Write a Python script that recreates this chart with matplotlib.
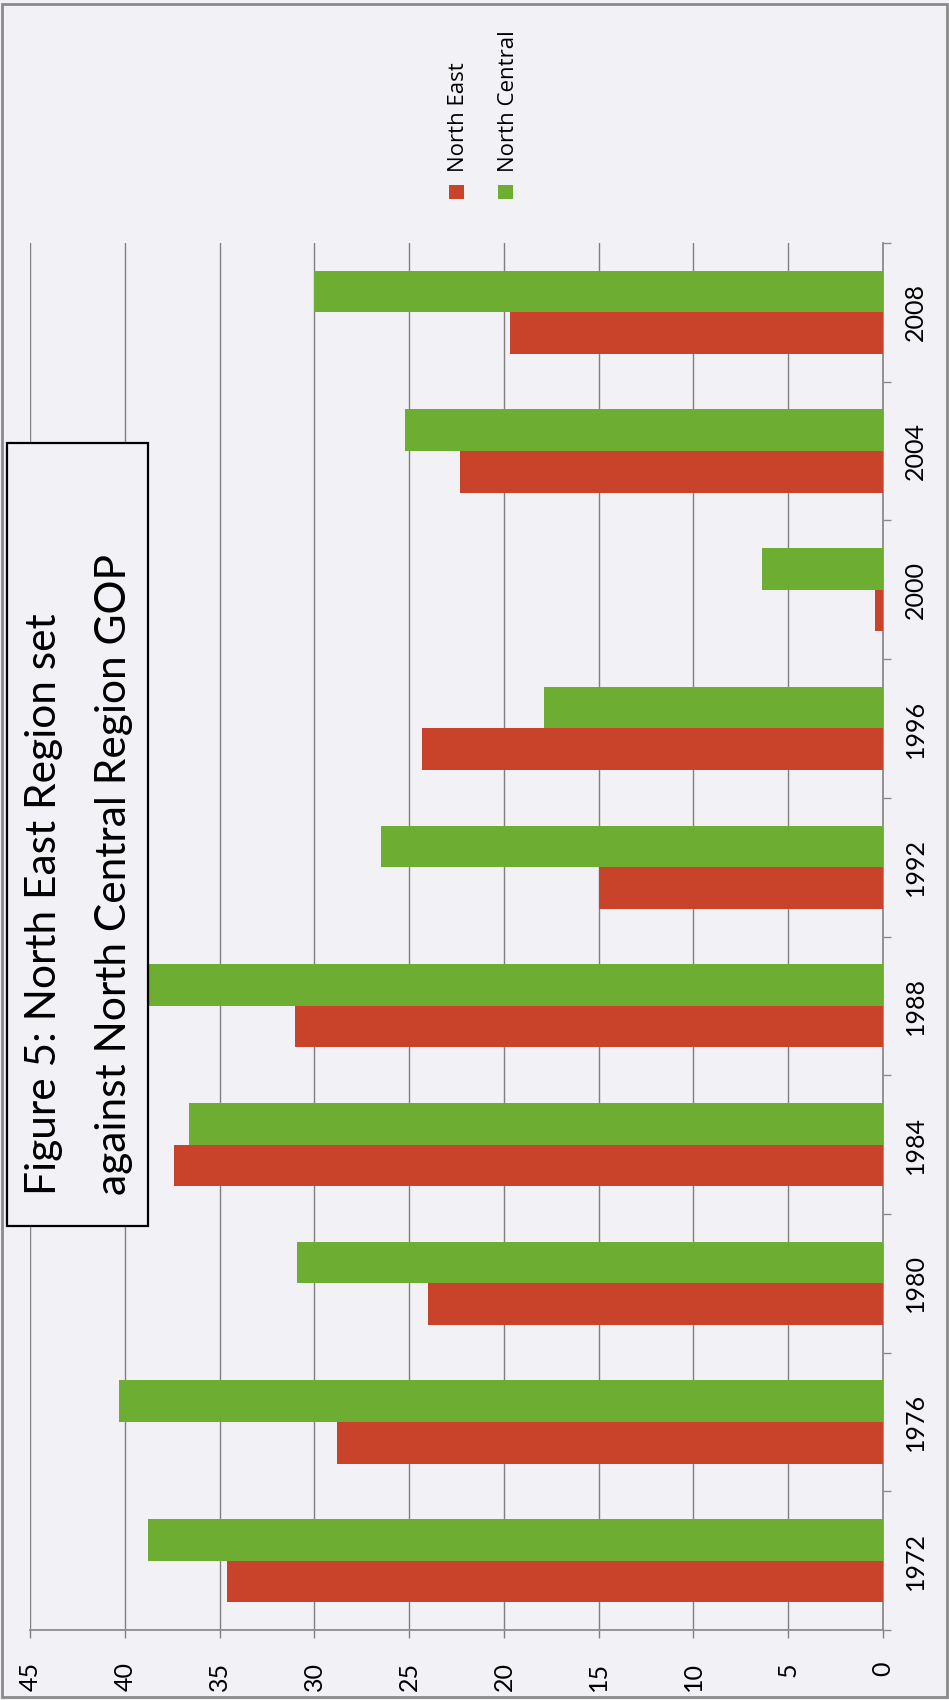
import matplotlib
matplotlib.use("Agg")
import matplotlib.pyplot as plt
from matplotlib.patches import Rectangle
from matplotlib import font_manager
import numpy as np

# values (percent)
years = ["1972", "1976", "1980", "1984", "1988", "1992", "1996", "2000", "2004", "2008"]
north_east = [34.6, 28.8, 24.0, 37.4, 31.0, 15.0, 24.3, 0.4, 22.3, 19.7]
north_central = [38.8, 40.3, 30.9, 36.6, 40.0, 26.5, 17.9, 6.4, 25.2, 30.0]
value_ticks = list(range(0, 50, 5))
series_names = ["North East", "North Central"]
title_lines = ["Figure 5: North East Region set", "against North Central Region GOP"]

RED = "#C8432A"
GREEN = "#6DAE32"
PAGE = "#F2F2F6"
GRID = "#7f7f7f"
AXIS = "#8c8c8c"

W, H = 949, 1700


def fx(px):
    return px / W


def fy(py):
    return 1 - py / H


installed = {f.name for f in font_manager.fontManager.ttflist}
num_font = "Liberation Sans Narrow" if "Liberation Sans Narrow" in installed else "Lato"

fig = plt.figure(figsize=(W / 100, H / 100), dpi=100, facecolor=PAGE)

# the whole chart is scanned rotated by 90 degrees, so bars run right-to-left
ax = fig.add_axes([fx(30), fy(1630), fx(883) - fx(30), fy(243) - fy(1630)])
ax.set_facecolor(PAGE)
pos = np.arange(len(years))
ax.barh(pos - 0.15, north_east, height=0.3, color=RED, zorder=3, label=series_names[0])
ax.barh(pos + 0.15, north_central, height=0.3, color=GREEN, zorder=3, label=series_names[1])

ax.set_xlim(45, 0)
ax.set_ylim(-0.5, len(years) - 0.5)
ax.set_xticks(value_ticks)
ax.set_xticklabels([str(v) for v in value_ticks], rotation=90, fontsize=18, family=num_font)
ax.xaxis.grid(True, color=GRID, lw=1)
ax.set_axisbelow(True)

ax.yaxis.tick_right()
ax.set_yticks(pos)
ax.set_yticklabels(years, rotation=90, fontsize=18, family=num_font, va="center")
ax.set_yticks(np.arange(-0.5, len(years)), minor=True)
ax.tick_params(axis="y", which="major", length=0, pad=15)
ax.tick_params(axis="y", which="minor", length=6, width=1, color=AXIS,
               direction="out", right=True, left=False)
ax.tick_params(axis="x", length=6, width=1, color=GRID, pad=17)

for s in ["left", "top"]:
    ax.spines[s].set_visible(False)
for s in ["bottom", "right"]:
    ax.spines[s].set_color(AXIS)
    ax.spines[s].set_linewidth(1.3)

# title box drawn over the gridlines
fig.add_artist(Rectangle((fx(7), fy(1226)), fx(148) - fx(7), fy(443) - fy(1226),
                         transform=fig.transFigure, facecolor=PAGE,
                         edgecolor="black", lw=1.6, zorder=5))
t1 = fig.text(fx(56), fy(1195), title_lines[0], rotation=90, rotation_mode="anchor",
              ha="left", va="baseline", fontsize=20, family="Lato", zorder=6)
t2 = fig.text(fx(126), fy(1195), title_lines[1], rotation=90, rotation_mode="anchor",
              ha="left", va="baseline", fontsize=20, family="Lato", zorder=6)
fig.canvas.draw()
length = t2.get_window_extent().height
size = 20 * 643 / length
t1.set_fontsize(size)
t2.set_fontsize(size)

# legend, drawn by hand because it is rotated too
for name, color, x0 in zip(series_names, [RED, GREEN], [449, 498]):
    fig.add_artist(Rectangle((fx(x0), fy(199)), fx(15), fy(185) - fy(199),
                             transform=fig.transFigure, facecolor=color,
                             edgecolor="none", zorder=5))
    fig.text(fx(x0 + 15.5), fy(172), name, rotation=90, rotation_mode="anchor",
             ha="left", va="baseline", fontsize=16, family="Open Sans", zorder=6)

# page border of the scan
fig.add_artist(Rectangle((fx(2), fy(1697)), fx(945), fy(4) - fy(1697),
                         transform=fig.transFigure, facecolor="none",
                         edgecolor="#8a8a8a", lw=2, zorder=7))

fig.savefig("out.png", dpi=100, facecolor=PAGE)
